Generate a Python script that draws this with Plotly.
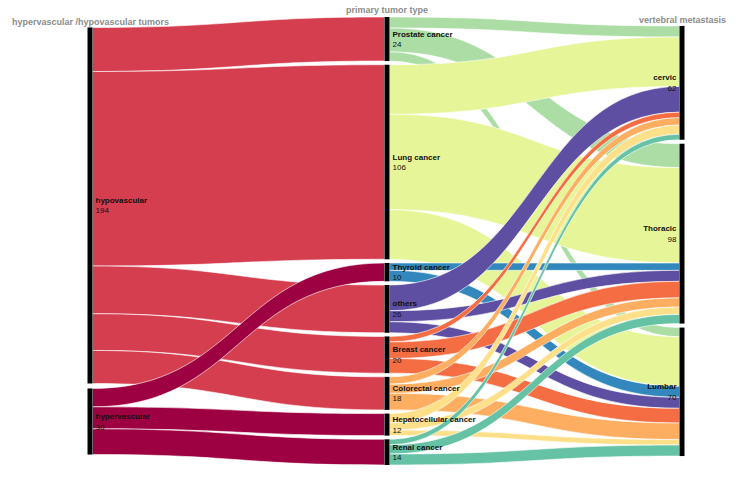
import plotly.graph_objects as go

# ---------------- data ----------------
vasc_nodes = ["hypovascular", "hypervascular"]
type_nodes = ["Prostate cancer", "Lung cancer", "Thyroid cancer", "others",
              "Breast cancer", "Colorectal cancer", "Hepatocellular cancer", "Renal cancer"]
region_nodes = ["cervic", "Thoracic", "Lumbar"]

# vascularity -> tumour type (order of type_nodes)
hypovascular_flows = [24, 106, 0, 26, 20, 18, 0, 0]
hypervascular_flows = [0, 0, 10, 0, 0, 0, 12, 14]

# tumour type -> region [cervic, Thoracic, Lumbar]
prostate = [6, 13, 5]
lung = [27, 52, 27]
thyroid = [0, 4, 6]
others = [14, 6, 6]
breast = [3, 9, 8]
colorectal = [4, 5, 9]
hepatocellular = [5, 4, 3]
renal = [3, 5, 6]

vasc_colors = ["#d53e4f", "#9e0142"]
type_colors = ["#abdda4", "#e6f598", "#3288bd", "#5e4fa2",
               "#f46d43", "#fdae61", "#fee08b", "#66c2a5"]

headers = ["hypervascular /hypovascular tumors", "primary tumor type", "vertebral metastasis"]

# ---------------- layout constants ----------------
W, Htot = 737, 477
MT, MB = 17, 12
H = Htot - MT - MB
PAD = 3.7
COL_X = [90 / W, 387 / W, 682 / W]
GAPS = [5, PAD, 4]

vasc_to_type = [hypovascular_flows, hypervascular_flows]
type_to_region = [prostate, lung, thyroid, others, breast, colorectal, hepatocellular, renal]

vasc_values = [sum(r) for r in vasc_to_type]
type_values = [sum(r) for r in type_to_region]
region_values = [sum(col) for col in zip(*type_to_region)]
total = sum(type_values)
ky = (H - (len(type_nodes) - 1) * PAD) / total


def centers(values, gap):
    hs = [v * ky for v in values]
    tot = sum(hs) + gap * (len(hs) - 1)
    y = (H - tot) / 2
    out = []
    for h in hs:
        out.append((y + h / 2) / H)
        y += h + gap
    return out


columns = [(vasc_nodes, vasc_values), (type_nodes, type_values), (region_nodes, region_values)]
labels, xs, ys = [], [], []
for ci, (names, vals) in enumerate(columns):
    cy = centers(vals, GAPS[ci])
    for n, v, y in zip(names, vals, cy):
        labels.append(f"<b>{n}</b><br>{v}")
        xs.append(COL_X[ci])
        ys.append(y)

nV, nT = len(vasc_nodes), len(type_nodes)
src, tgt, val, col = [], [], [], []
for i, row in enumerate(vasc_to_type):
    for j, v in enumerate(row):
        if v > 0:
            src.append(i); tgt.append(nV + j); val.append(v); col.append(vasc_colors[i])
for j, row in enumerate(type_to_region):
    for k, v in enumerate(row):
        if v > 0:
            src.append(nV + j); tgt.append(nV + nT + k); val.append(v); col.append(type_colors[j])

tf = dict(family="Liberation Sans, Arial", size=8, color="#111")
try:
    go.sankey.Textfont(shadow="none")
    tf["shadow"] = "none"
except Exception:
    pass

fig = go.Figure(go.Sankey(
    arrangement="fixed",
    node=dict(label=labels, x=xs, y=ys, pad=PAD, thickness=5,
              color="black", line=dict(width=0)),
    link=dict(source=src, target=tgt, value=val, color=col,
              line=dict(color="white", width=0.6)),
    textfont=tf,
))

hdr_y = [22, 10, 20]
anns = []
for x, t, py in zip(COL_X, headers, hdr_y):
    anns.append(dict(text=f"<b>{t}</b>", x=x, y=1 - (py - MT) / H, xref="paper", yref="paper",
                     xanchor="center", yanchor="middle", showarrow=False,
                     font=dict(family="Liberation Sans, Arial", size=9, color="#8c8c8c")))

fig.update_layout(width=W, height=Htot, margin=dict(l=0, r=0, t=MT, b=MB),
                  paper_bgcolor="white", plot_bgcolor="white", annotations=anns)
fig.write_html("out.html")
